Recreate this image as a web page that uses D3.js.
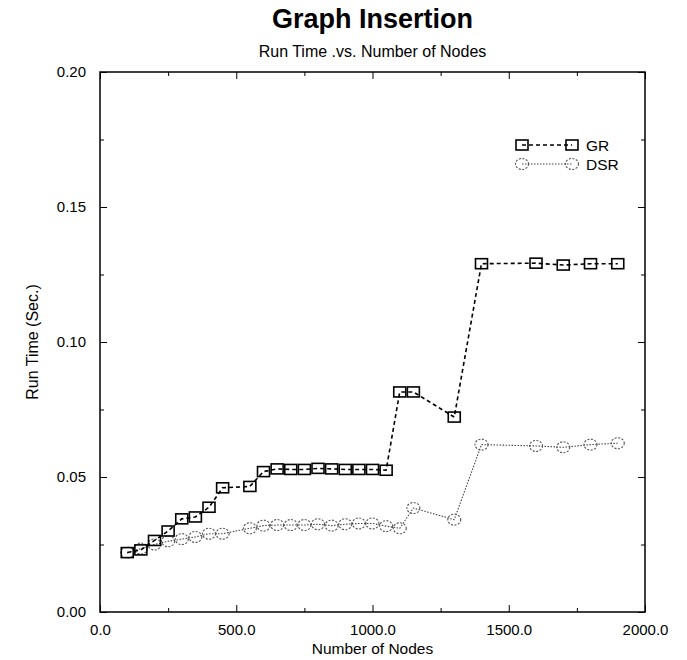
<!DOCTYPE html>
<html>
<head>
<meta charset="utf-8">
<script src="https://cdn.jsdelivr.net/npm/d3@7"></script>
<style>
  body { margin: 0; background: #fff; }
  text { font-family: "Liberation Sans", Arial, sans-serif; fill: #000; }
</style>
</head>
<body>
<script>
// values
var nodes = [100, 150, 200, 250, 300, 350, 400, 450, 550, 600, 650, 700, 750, 800, 850, 900, 950, 1000, 1050, 1100, 1150, 1300, 1400, 1600, 1700, 1800, 1900];
var grTime = [0.022, 0.023, 0.0265, 0.030, 0.0345, 0.0352, 0.0388, 0.046, 0.0465, 0.052, 0.053, 0.0528, 0.0528, 0.0532, 0.053, 0.0528, 0.0528, 0.0528, 0.0525, 0.0815, 0.0815, 0.0722, 0.129, 0.1292, 0.1285, 0.129, 0.129];
var dsrTime = [0.022, 0.0235, 0.025, 0.0262, 0.027, 0.0278, 0.029, 0.029, 0.031, 0.032, 0.0322, 0.0322, 0.0322, 0.0325, 0.032, 0.0325, 0.0328, 0.0328, 0.0318, 0.031, 0.0385, 0.0342, 0.062, 0.0615, 0.061, 0.062, 0.0625];
var seriesNames = ["GR", "DSR"];
var xTicks = [0, 500, 1000, 1500, 2000];
var yTicks = [0, 0.05, 0.10, 0.15, 0.20];

var W = 687, H = 660;
var margin = {top: 72, right: 42, bottom: 48, left: 100};
var width = W - margin.left - margin.right,
    height = H - margin.top - margin.bottom;

const svg = d3.select("body").append("svg")
    .attr("width", W)
    .attr("height", H);

const g = svg.append("g").attr("transform", `translate(${margin.left}, ${margin.top})`);

var x = d3.scaleLinear().domain([0, 2000]).range([0, width]);
var y = d3.scaleLinear().domain([0, 0.20]).range([height, 0]);

// frame
g.append("rect")
    .attr("width", width).attr("height", height)
    .attr("fill", "none").attr("stroke", "#000").attr("stroke-width", 1.5);

// inward ticks on all four sides
var minorX = d3.range(0, 2001, 250), minorY = d3.range(0, 0.2001, 0.025);
function tickLen(v, step) { return Math.abs(v / step - Math.round(v / step)) < 1e-6 ? 7 : 4; }

g.append("g").attr("transform", `translate(0,${height})`)
    .call(d3.axisBottom(x).tickValues(minorX).tickSize(0).tickFormat(""))
    .call(a => a.select(".domain").remove())
    .selectAll(".tick line").attr("y2", d => -tickLen(d, 500));
g.append("g")
    .call(d3.axisTop(x).tickValues(minorX).tickSize(0).tickFormat(""))
    .call(a => a.select(".domain").remove())
    .selectAll(".tick line").attr("y2", d => tickLen(d, 500));
g.append("g")
    .call(d3.axisLeft(y).tickValues(minorY).tickSize(0).tickFormat(""))
    .call(a => a.select(".domain").remove())
    .selectAll(".tick line").attr("x2", d => tickLen(d, 0.05));
g.append("g").attr("transform", `translate(${width},0)`)
    .call(d3.axisRight(y).tickValues(minorY).tickSize(0).tickFormat(""))
    .call(a => a.select(".domain").remove())
    .selectAll(".tick line").attr("x2", d => -tickLen(d, 0.05));

// tick labels
g.append("g").attr("transform", `translate(0,${height})`)
    .call(d3.axisBottom(x).tickValues(xTicks).tickSize(0).tickPadding(12).tickFormat(d3.format(".1f")))
    .call(a => a.select(".domain").remove())
    .selectAll("text").style("font-size", "15px").attr("fill", "#000");
g.append("g")
    .call(d3.axisLeft(y).tickValues(yTicks).tickSize(0).tickPadding(14).tickFormat(d3.format(".2f")))
    .call(a => a.select(".domain").remove())
    .selectAll("text").style("font-size", "15px").attr("fill", "#000");

// titles
svg.append("text").attr("x", margin.left + width / 2).attr("y", 28)
    .attr("text-anchor", "middle").style("font-size", "27px").style("font-weight", "bold")
    .text("Graph Insertion");
svg.append("text").attr("x", margin.left + width / 2).attr("y", 57)
    .attr("text-anchor", "middle").style("font-size", "16px")
    .text("Run Time .vs. Number of Nodes");
svg.append("text").attr("x", margin.left + width / 2).attr("y", H - 6)
    .attr("text-anchor", "middle").style("font-size", "15.5px")
    .text("Number of Nodes");
svg.append("text")
    .attr("transform", `translate(38, ${margin.top + height / 2}) rotate(-90)`)
    .attr("text-anchor", "middle").style("font-size", "16px")
    .style("font-family", "'Liberation Sans Narrow', 'Liberation Sans', sans-serif")
    .text("Run Time (Sec.)");

var line = d3.line().x(d => x(d[0])).y(d => y(d[1]));
var grData = nodes.map((n, i) => [n, grTime[i]]);
var dsrData = nodes.map((n, i) => [n, dsrTime[i]]);

function square(sel) {
    sel.append("rect").attr("x", -6).attr("y", -5).attr("width", 12).attr("height", 10)
        .attr("fill", "none").attr("stroke", "#000").attr("stroke-width", 1.6);
}
function circle(sel) {
    sel.append("ellipse").attr("rx", 6.5).attr("ry", 5.5)
        .attr("fill", "none").attr("stroke", "#555").attr("stroke-width", 1.1)
        .attr("stroke-dasharray", "2,1.5");
}

// DSR
g.append("path").datum(dsrData).attr("d", line)
    .attr("fill", "none").attr("stroke", "#444").attr("stroke-width", 1.1)
    .attr("stroke-dasharray", "1.5,1.5");
g.selectAll(".dsr").data(dsrData).enter().append("g")
    .attr("transform", d => `translate(${x(d[0])},${y(d[1])})`).call(circle);

// GR
g.append("path").datum(grData).attr("d", line)
    .attr("fill", "none").attr("stroke", "#000").attr("stroke-width", 1.6)
    .attr("stroke-dasharray", "4,3");
g.selectAll(".gr").data(grData).enter().append("g")
    .attr("transform", d => `translate(${x(d[0])},${y(d[1])})`).call(square);

// legend
var legend = svg.append("g").attr("transform", "translate(522, 145)");
seriesNames.forEach(function (name, i) {
    var row = legend.append("g").attr("transform", `translate(0, ${i * 19})`);
    row.append("line").attr("x1", 0).attr("x2", 50)
        .attr("stroke", i === 0 ? "#000" : "#444").attr("stroke-width", i === 0 ? 1.4 : 1.1)
        .attr("stroke-dasharray", i === 0 ? "4,3" : "1.5,1.5");
    [0, 50].forEach(function (px) {
        row.append("g").attr("transform", `translate(${px},0)`).call(i === 0 ? square : circle);
    });
    row.append("text").attr("x", 64).attr("y", 5.5).style("font-size", "15.5px").text(name);
});
</script>
</body>
</html>
